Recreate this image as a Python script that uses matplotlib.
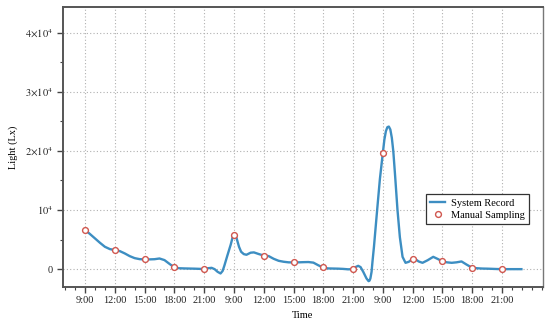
import matplotlib
matplotlib.use("Agg")
import matplotlib.pyplot as plt
from matplotlib.ticker import FixedLocator, MultipleLocator, FuncFormatter

plt.rcParams['font.family'] = ['Liberation Serif', 'DejaVu Serif']
plt.rcParams['mathtext.fontset'] = 'stix'

# time slots on the x axis (three days, night compressed)
tick_labels = ["9:00", "12:00", "15:00", "18:00", "21:00"] * 3
slots = list(range(len(tick_labels)))

# manual sampling at each slot
manual_vals = [6660, 3220, 1640, 290, 0,
               5810, 2250, 1130, 290, 0,
               19700, 1700, 1300, 220, 0]

# system record (slot position, lux)
rec_x = [0.0, 0.167, 0.333, 0.5, 0.667, 0.833, 1.0, 1.167, 1.333, 1.5, 1.667, 1.833,
         2.0, 2.167, 2.333, 2.5, 2.667, 2.833, 3.0, 3.167, 3.333, 3.5, 3.667, 3.833,
         4.0, 4.12, 4.25, 4.35, 4.45, 4.55, 4.62, 4.68, 4.77, 4.89, 4.96, 5.0, 5.03,
         5.09, 5.17, 5.24, 5.33, 5.42, 5.56, 5.67, 5.84,
         6.0, 6.167, 6.333, 6.5, 6.667, 6.833, 7.0, 7.167, 7.333, 7.5, 7.667, 7.833,
         8.0, 8.167, 8.333, 8.5, 8.667, 8.833,
         9.0, 9.08, 9.17, 9.25, 9.34, 9.45, 9.52, 9.55, 9.58, 9.62, 9.65, 9.70,
         9.81, 9.90, 10.0, 10.05, 10.1, 10.15, 10.2, 10.25, 10.3, 10.35, 10.41,
         10.49, 10.57, 10.66, 10.76, 10.87, 11.0, 11.1, 11.2, 11.33, 11.5, 11.69, 11.85,
         12.0, 12.15, 12.31, 12.47, 12.64, 12.8, 13.0, 13.17, 13.33, 13.5, 13.67, 13.83,
         14.0, 14.17, 14.33, 14.5, 14.65]
rec_y = [6660, 5930, 5200, 4460, 3780, 3390, 3220, 3050, 2660, 2200, 1860, 1690,
         1640, 1650, 1680, 1800, 1530, 900, 290, 150, 120, 100, 80, 50,
         0, 150, 220, 0, -450, -730, -300, 620, 2150, 4120, 5480, 5850, 6000,
         5200, 3780, 2940, 2540, 2430, 2780, 2830, 2540,
         2300, 2200, 1750, 1410, 1250, 1150, 1130, 1150, 1180, 1200, 1100, 650,
         250, 120, 100, 80, 40, -30,
         0, 350, 560, 350, -450, -1580, -2030, -1950, -1580, -450, 1240, 3780,
         10170, 15260, 19720, 21900, 23300, 24000, 24100, 23600, 22200, 19900, 15800,
         10000, 5400, 2080, 1070, 1240, 1750, 1650, 1300, 1070, 1500, 2080, 1700,
         1300, 1150, 1070, 1150, 1300, 800, 220, 150, 100, 80, 50, 20,
         0, 0, 0, 0, 0]

fig = plt.figure(figsize=(5.5, 3.21), dpi=100)
ax = fig.add_axes([0.1145, 0.107, 0.8725, 0.871])

ax.plot(rec_x, rec_y, color="#3d8ec2", lw=1.7, label="System Record", zorder=3)
ax.plot(slots, manual_vals, ls="none", marker="o", ms=4.2, mfc="white",
        mec="#d0574f", mew=1.0, label="Manual Sampling", zorder=4)

ax.set_xlim(-0.74, 15.37)
ax.set_ylim(-2960, 44300)

ax.xaxis.set_major_locator(FixedLocator(slots))
ax.set_xticklabels(tick_labels)
ax.xaxis.set_minor_locator(MultipleLocator(1 / 3))
ax.yaxis.set_major_locator(MultipleLocator(10000))
ax.yaxis.set_minor_locator(MultipleLocator(5000))


def fmt(v, pos):
    n = int(round(v / 10000))
    if n == 0:
        return "0"
    if n == 1:
        return r"$10^4$"
    return r"$%d{\times}10^4$" % n


ax.yaxis.set_major_formatter(FuncFormatter(fmt))

ax.tick_params(which="both", direction="out", colors="#444444", labelsize=7.5,
               labelcolor="#222222")
ax.tick_params(which="major", length=4, width=1)
ax.tick_params(which="minor", length=2.5, width=0.8)
ax.tick_params(axis="x", pad=3)

ax.grid(True, which="major", ls=(0, (1, 2)), color="#b0b0b0", lw=0.8)

for side in ["left", "bottom", "top"]:
    ax.spines[side].set_color("#555555")
    ax.spines[side].set_linewidth(1.4)
ax.spines["right"].set_color("#777777")
ax.spines["right"].set_linewidth(1.0)

ax.set_xlabel("Time", fontsize=7.5, labelpad=4)
ax.set_ylabel("Light (Lx)", fontsize=7.5, labelpad=5)

leg = ax.legend(loc="upper left", bbox_to_anchor=(0.757, 0.33), fontsize=7.5,
                frameon=True, fancybox=False, framealpha=1, edgecolor="#333333",
                handlelength=1.4, handletextpad=0.6, borderpad=0.4,
                labelspacing=0.25, borderaxespad=0)
leg.get_frame().set_linewidth(0.9)

fig.savefig("out.png", dpi=100)
